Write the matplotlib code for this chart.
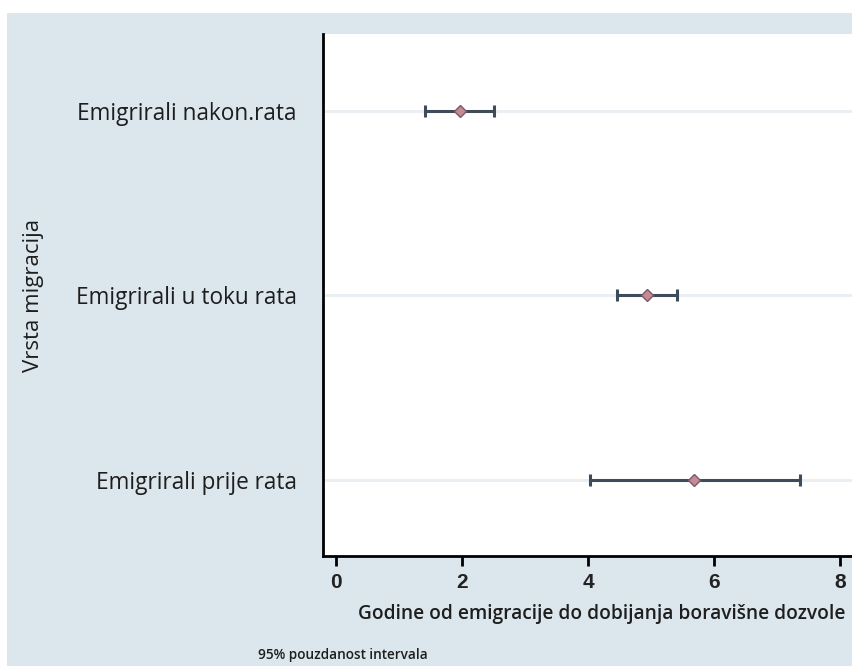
"""Interval plot: years from emigration to residence permit, by migration type."""

import matplotlib.pyplot as plt
from matplotlib.patches import Rectangle

# %% Data
categories = ["Emigrirali nakon.rata", "Emigrirali u toku rata", "Emigrirali prije rata"]
means = [1.97, 4.93, 5.69]
ci_low = [1.41, 4.46, 4.03]
ci_high = [2.51, 5.41, 7.37]
x_ticks = [0, 2, 4, 6, 8]

bg_color = "#dce7ed"
bar_color = "#3d4b5a"
marker_face = "#c58a98"
text_color = "#1e1e1e"

fig = plt.figure(figsize=(8.53, 6.66), dpi=100)
fig.patch.set_facecolor("white")
# light panel behind the whole chart (starts slightly inside the image)
fig.patches.append(
    Rectangle((7 / 853, 0), 1, 1 - 13 / 666, transform=fig.transFigure,
              facecolor=bg_color, edgecolor="none", zorder=-10)
)

ax = fig.add_axes([323 / 853, 1 - 556 / 666, 1 - 323 / 853, (556 - 34) / 666])
ax.set_facecolor("white")

ypos = list(range(1, len(categories) + 1))
err_lo = [m - lo for m, lo in zip(means, ci_low)]
err_hi = [hi - m for m, hi in zip(means, ci_high)]

for y in ypos:
    ax.axhline(y, color="#e8eef2", lw=2, zorder=0)

ax.errorbar(
    means, ypos, xerr=[err_lo, err_hi],
    fmt="none", ecolor=bar_color, elinewidth=2.2, capsize=4, capthick=2.2, zorder=2,
)
ax.plot(
    means, ypos, linestyle="none", marker="D", markersize=6,
    markerfacecolor=marker_face, markeredgecolor="#7a5a66", markeredgewidth=1, zorder=3,
)

ax.set_xlim(-0.21, 8.21)
ax.set_ylim(3.41, 0.585)
ax.set_yticks(ypos)
ax.set_yticklabels(categories, fontsize=16.3, family="Open Sans", color=text_color)
ax.tick_params(axis="y", length=0, pad=19)
ax.set_xticks(x_ticks)
ax.set_xticklabels([str(t) for t in x_ticks], fontsize=15, family="Liberation Sans",
                   fontweight="bold", color="#222222")
ax.tick_params(axis="x", length=7, width=2, pad=5, color="black")

for side in ["top", "right"]:
    ax.spines[side].set_visible(False)
for side in ["left", "bottom"]:
    ax.spines[side].set_linewidth(2)

fig.text(845 / 853, 1 - 614 / 666, "Godine od emigracije do dobijanja boravišne dozvole",
         ha="right", va="center", fontsize=13.8, family="Open Sans",
         fontweight="semibold", color=text_color)
fig.text(34 / 853, 1 - 295 / 666, "Vrsta migracija", rotation=90,
         ha="center", va="center", fontsize=16, family="Open Sans", color=text_color)
fig.text(258 / 853, 1 - 655 / 666, "95% pouzdanost intervala",
         ha="left", va="center", fontsize=9.8, family="Open Sans",
         fontweight="semibold", color=text_color)

fig.savefig("out.png", dpi=100, facecolor=fig.get_facecolor())
